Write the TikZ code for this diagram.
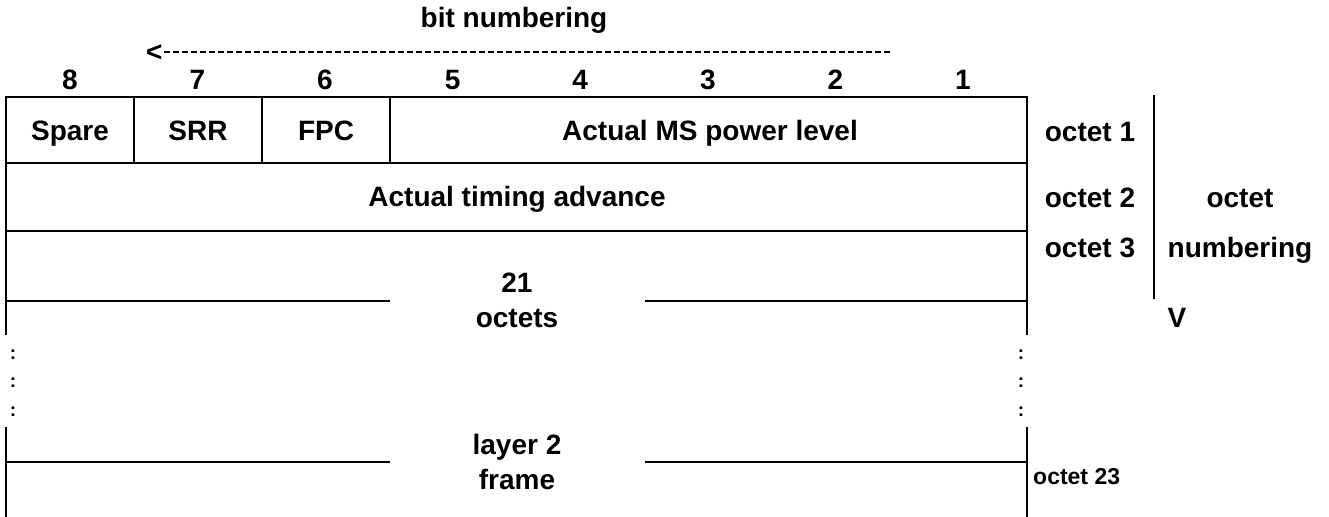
\documentclass[tikz,border=0pt]{standalone}
\usepackage{fontspec}
\setmainfont{Liberation Sans}
\begin{document}
\begin{tikzpicture}[x=0.5pt, y=-0.5pt, line width=1.2pt,
    lbl/.style={font=\fontsize{14}{16}\selectfont\bfseries, inner sep=0pt,
      text height=10pt, text depth=0pt},
    smalllbl/.style={font=\fontsize{11.5}{13}\selectfont\bfseries, inner sep=0pt},
    dotlbl/.style={font=\fontsize{9.5}{10}\selectfont\bfseries, inner sep=0pt}]
  \useasboundingbox (0,0) rectangle (1329,517);
  % Bit numbering
  \node[lbl] (title) at (514,18) {bit numbering};
  \node[lbl, anchor=west] (arrtip) at (145,52) {<};
  \coordinate (arrend) at (891,52);
  \draw[line width=1.3pt, dash pattern=on 3pt off 1.5pt] (arrtip.east) -- (arrend);
  \foreach \b [count=\i] in {8,...,1}
    \node[lbl] (bit\b) at ({6+127.6*(\i-0.5)},80) {\b};
  % Frame of the table
  \draw (6,335) -- (6,97) -- (1027,97) -- (1027,335);
  \draw (6,427) -- (6,520);
  \draw (1027,427) -- (1027,520);
  \draw (6,163) -- (1027,163);
  \draw (6,231) -- (1027,231);
  \foreach \y in {301,462} {
    \draw (6,\y) -- (390,\y);
    \draw (645,\y) -- (1027,\y);
  }
  \foreach \x in {134,262,390}
    \draw (\x,97) -- (\x,163);
  % Octet 1 and 2
  \node[lbl] (spare) at (70,131) {Spare};
  \node[lbl] (srr) at (198,131) {SRR};
  \node[lbl] (fpc) at (326,131) {FPC};
  \node[lbl] (power) at (710,131) {Actual MS power level};
  \node[lbl] (timing) at (517,197) {Actual timing advance};
  % Octets 3 to 23
  \node[lbl] (n21) at (517,283) {21};
  \node[lbl] (octs) at (517,318) {octets};
  \node[lbl] (layer) at (517,445) {layer 2};
  \node[lbl] (frame) at (517,480) {frame};
  \foreach \y in {355,383,412} {
    \node[dotlbl] at (13,\y) {:};
    \node[dotlbl] at (1021,\y) {:};
  }
  % Octet numbering
  \node[lbl] (oct1) at (1090,132) {octet 1};
  \node[lbl] (oct2) at (1090,198) {octet 2};
  \node[lbl] (oct3) at (1090,248) {octet 3};
  \node[smalllbl, anchor=west] (oct23) at (1032,477) {octet 23};
  \draw (1154,95) -- (1154,299);
  \node[lbl] (octword) at (1240,198) {octet};
  \node[lbl] (numword) at (1240,248) {numbering};
  \node[lbl] (down) at (1177,318) {V};
\end{tikzpicture}
\end{document}
